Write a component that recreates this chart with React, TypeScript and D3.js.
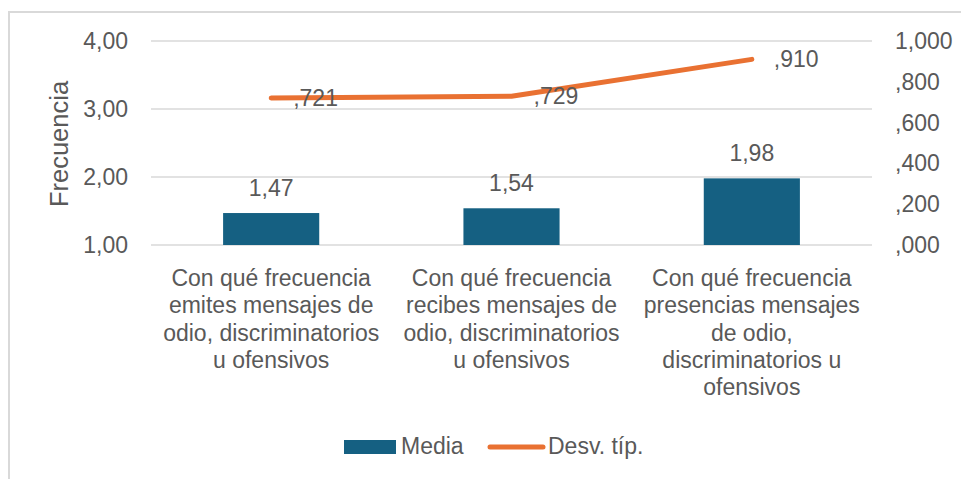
import React from "react";
import * as d3 from "d3";

const categories: string[][] = [
  ["Con qué frecuencia", "emites mensajes de", "odio, discriminatorios", "u ofensivos"],
  ["Con qué frecuencia", "recibes mensajes de", "odio, discriminatorios", "u ofensivos"],
  ["Con qué frecuencia", "presencias mensajes", "de odio,", "discriminatorios u", "ofensivos"],
];
const media = [1.47, 1.54, 1.98];
const desv = [0.721, 0.729, 0.91];
const leftTicks = [1, 2, 3, 4];
const rightTicks = [0, 0.2, 0.4, 0.6, 0.8, 1.0];
const seriesNames = ["Media", "Desv. típ."];
const axisTitle = "Frecuencia";

const W = 961;
const H = 479;
const FONT = "'Liberation Sans', Arial, sans-serif";
const TEXT = "#595959";
const GRID = "#D9D9D9";
const BLUE = "#156082";
const ORANGE = "#E97132";

const locale = d3.formatLocale({ decimal: ",", thousands: ".", grouping: [3], currency: ["", "€"] });
const f2 = locale.format(".2f");
const f3raw = locale.format(".3f");
const f3 = (v: number) => {
  const s = f3raw(v);
  return s.startsWith("0,") ? s.slice(1) : s;
};

export default function App() {
  const left = 151, right = 872, top = 41, bottom = 245;
  const idx = categories.map((_, i) => i);
  const x = d3.scaleBand<number>().domain(idx).range([left, right]).paddingInner(0.6).paddingOuter(0.3);
  const yL = d3.scaleLinear().domain([1, 4]).range([bottom, top]);
  const yR = d3.scaleLinear().domain([0, 1]).range([bottom, top]);
  const cx = (i: number) => (x(i) as number) + x.bandwidth() / 2;
  const line = d3.line<number>().x((_, i) => cx(i)).y((d) => yR(d));

  return (
    <svg width={W} height={H} style={{ position: "absolute", left: 0, top: 0, background: "#fff" }} fontFamily={FONT}>
      <rect x={0} y={0} width={W} height={H} fill="#fff" />
      <rect x={9} y={12} width={W + 20} height={H + 20} fill="none" stroke={GRID} strokeWidth={2} />
      {leftTicks.map((t) => (
        <g key={"l" + t}>
          <line x1={left} x2={right} y1={yL(t)} y2={yL(t)} stroke={GRID} strokeWidth={1.3} />
          <text x={128} y={yL(t)} dy="0.35em" textAnchor="end" fontSize={23} fill={TEXT}>{f2(t)}</text>
        </g>
      ))}
      {rightTicks.map((t) => (
        <text key={"r" + t} x={895} y={yR(t)} dy="0.35em" textAnchor="start" fontSize={23} fill={TEXT}>{f3(t)}</text>
      ))}
      <text transform={`translate(68,${(top + bottom) / 2 + 1}) rotate(-90)`} textAnchor="middle" fontSize={25.5} fill={TEXT}>{axisTitle}</text>
      {media.map((v, i) => (
        <g key={"b" + i}>
          <rect x={x(i)} y={yL(v)} width={x.bandwidth()} height={yL(1) - yL(v)} fill={BLUE} />
          <text x={cx(i)} y={yL(v) - 17.5} textAnchor="middle" fontSize={23} fill={TEXT}>{f2(v)}</text>
        </g>
      ))}
      <path d={line(desv) as string} fill="none" stroke={ORANGE} strokeWidth={5} strokeLinecap="round" strokeLinejoin="round" />
      {desv.map((v, i) => (
        <text key={"d" + i} x={cx(i) + 22} y={yR(v)} dy="0.35em" textAnchor="start" fontSize={23} fill={TEXT}>{f3(v)}</text>
      ))}
      {categories.map((lines, i) => (
        <text key={"c" + i} textAnchor="middle" fontSize={23} fill={TEXT}>
          {lines.map((ln, j) => (
            <tspan key={j} x={cx(i)} y={286 + j * 27.3}>{ln}</tspan>
          ))}
        </text>
      ))}
      <rect x={344} y={440} width={52} height={14} fill={BLUE} />
      <text x={401} y={454} fontSize={23} fill={TEXT}>{seriesNames[0]}</text>
      <line x1={490} x2={543} y1={447} y2={447} stroke={ORANGE} strokeWidth={5} strokeLinecap="round" />
      <text x={548} y={454} fontSize={23} fill={TEXT}>{seriesNames[1]}</text>
    </svg>
  );
}
